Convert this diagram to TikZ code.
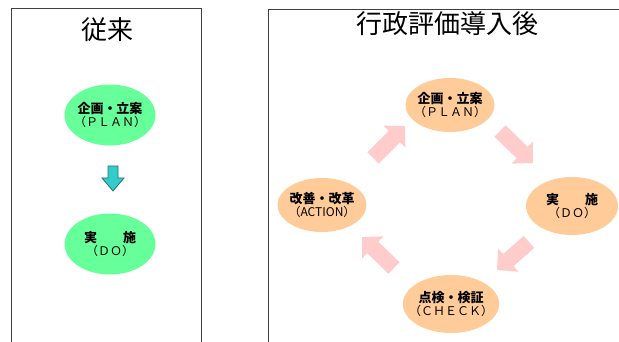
\documentclass[tikz,border=0pt]{standalone}
\usepackage{fontspec}
\newfontfamily\jp{Noto Sans CJK JP}
\usetikzlibrary{arrows.meta,shapes.geometric}
\definecolor{lgreen}{HTML}{66FF99}
\definecolor{lorange}{HTML}{FFCC99}
\definecolor{lpink}{HTML}{FFCCCC}
\definecolor{cyanfill}{HTML}{33CCCC}
\definecolor{cyanline}{HTML}{2F6F6F}
\definecolor{frame}{HTML}{404040}
\newcommand{\subline}[1]{{\mdseries\fontsize{12}{13}\selectfont #1}}
\tikzset{
  panel/.style={draw=frame, line width=0.8pt},
  titletext/.style={font=\jp\fontsize{26}{28}\selectfont, inner sep=0pt},
  stage/.style={ellipse, inner sep=-8pt, align=center, text=black,
    font=\jp\bfseries\fontsize{13}{13.5}\selectfont},
  greenstage/.style={stage, fill=lgreen, minimum width=91pt, minimum height=61pt},
  orangestage/.style={stage, fill=lorange, minimum width=89pt, minimum height=54pt},
  cyclearrow/.style={draw=lpink, line width=16pt, line cap=butt,
    -{Triangle[width=30pt,length=15pt]}},
  downarrow/.style={fill=cyanfill, draw=cyanline, line width=0.8pt, line join=miter}
}
\begin{document}
\begin{tikzpicture}[x=1pt,y=-1pt]
\useasboundingbox (0,0) rectangle (619,342);
\fill[white] (0,0) rectangle (619,342);
% panels
\draw[panel] (11,350) -- (11,8) -- (201,8) -- (201,350);
\draw[panel] (268,350) -- (268,9) -- (630,9);
% titles
\node[titletext] (t1) at (107,30) {従来};
\node[titletext] (t2) at (447,24) {行政評価導入後};
% left
\node[greenstage] (lplan) at (110,115) {企画・立案\\\subline{（ＰＬＡＮ）}};
\node[greenstage] (ldo) at (110,244) {実　　施\\\subline{（ＤＯ）}};
\draw[downarrow] (108,166) -- (118,166) -- (118,178) -- (124,178) -- (113,191) -- (102,178) -- (108,178) -- cycle;
% right
\node[orangestage] (plan) at (450,105) {企画・立案\\\subline{（ＰＬＡＮ）}};
\node[orangestage, minimum height=58pt, minimum width=92pt] (do) at (572,206) {実　　施\\\subline{（ＤＯ）}};
\node[orangestage, minimum height=58pt, minimum width=90pt] (check) at (451,304) {点検・検証\\\subline{（ＣＨＥＣＫ）}};
\node[orangestage] (act) at (322,205) {改善・改革\\\subline{（ACTION）}};
% arrow coordinates
\coordinate (a1s) at (373,158); \coordinate (a1e) at (405,126);
\coordinate (a2s) at (500,131); \coordinate (a2e) at (533,163);
\coordinate (a3s) at (529,242); \coordinate (a3e) at (497,270);
\coordinate (a4s) at (394,268); \coordinate (a4e) at (362,237);
\draw[cyclearrow] (a1s) -- (a1e);
\draw[cyclearrow] (a2s) -- (a2e);
\draw[cyclearrow] (a3s) -- (a3e);
\draw[cyclearrow] (a4s) -- (a4e);
\end{tikzpicture}
\end{document}
